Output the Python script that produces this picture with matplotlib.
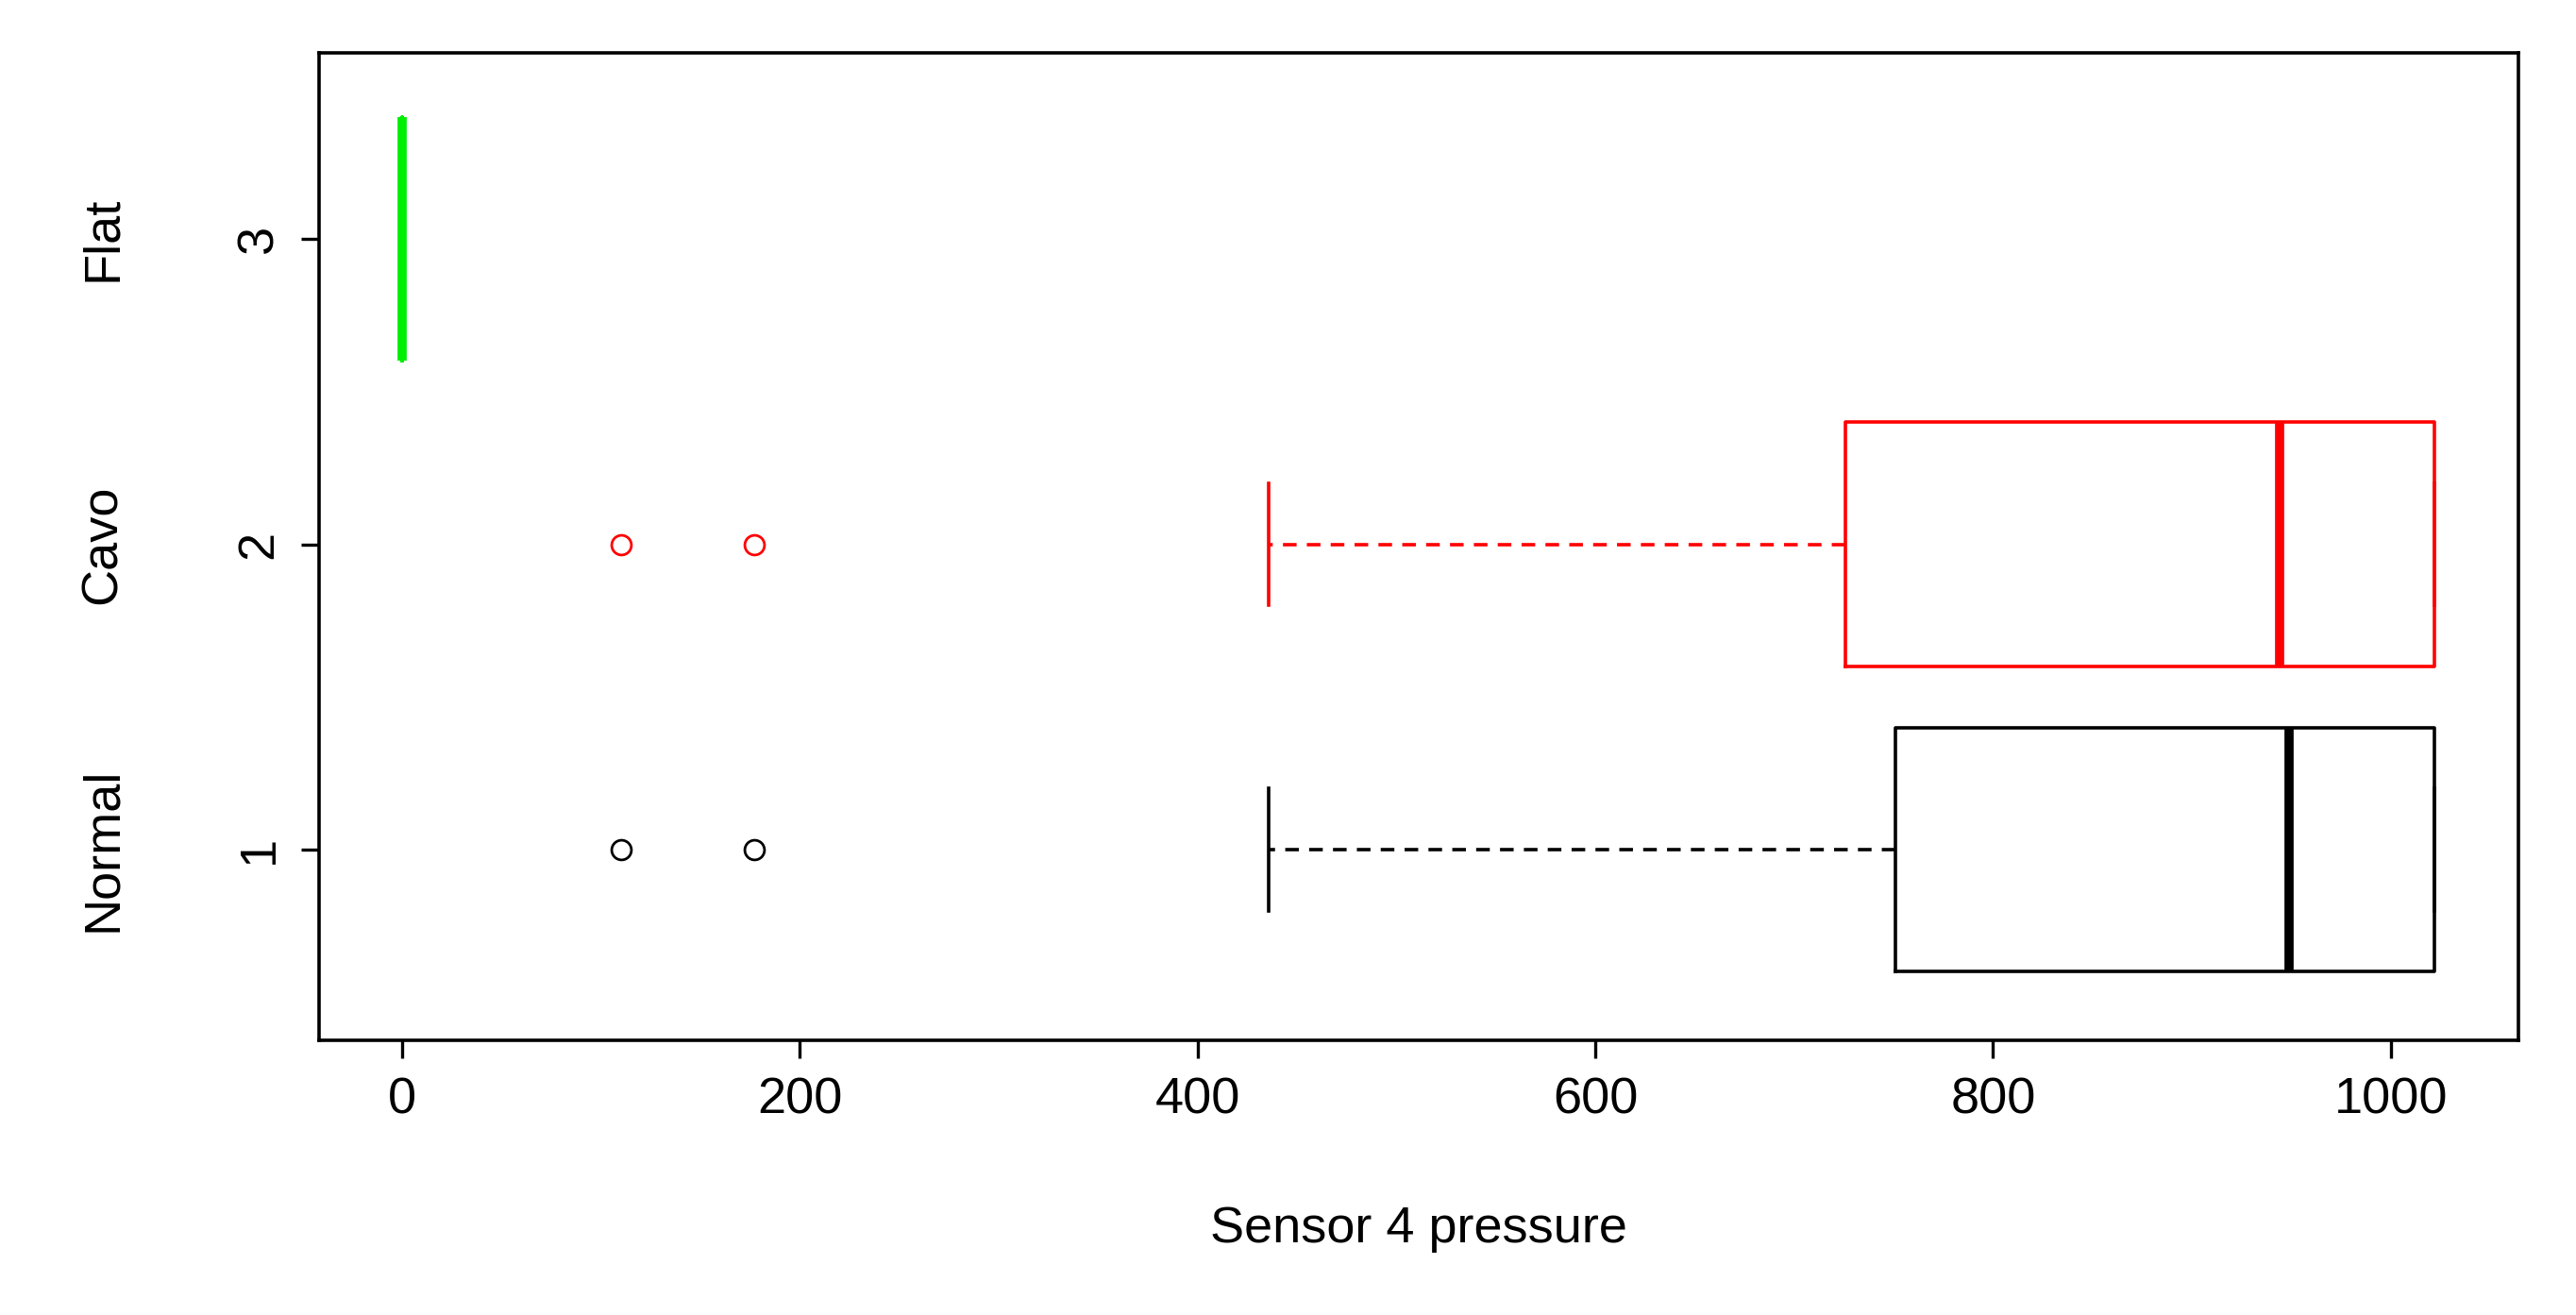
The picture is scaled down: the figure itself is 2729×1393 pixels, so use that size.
import matplotlib
matplotlib.use("Agg")
import matplotlib.pyplot as plt
import matplotlib.transforms as mtrans

groups = ["Normal", "Cavo", "Flat"]
positions = [1, 2, 3]
colors = ["black", "red", "#00ee00"]
q1 = [751, 726, 0]
med = [949, 944, 0]
q3 = [1022, 1022, 0]
wlo = [436, 436, 0]
whi = [1022, 1022, 0]
fliers = [[110, 177], [110, 177], []]

plt.rcParams['font.family'] = ['Liberation Sans', 'DejaVu Sans']
fig = plt.figure(figsize=(27.29, 13.93), dpi=100)
ax = fig.add_axes([0.124, 0.209, 0.8535, 0.751])

for i in range(3):
    st = [dict(med=med[i], q1=q1[i], q3=q3[i], whislo=wlo[i], whishi=whi[i], fliers=fliers[i])]
    c = colors[i]
    ax.bxp(st, positions=[positions[i]], widths=0.8, capwidths=0.4, orientation='horizontal',
           boxprops=dict(color=c, linewidth=2.6),
           medianprops=dict(color=c, linewidth=7, solid_capstyle='butt'),
           whiskerprops=dict(color=c, linewidth=2.6, linestyle=(0, (4, 3))),
           capprops=dict(color=c, linewidth=2.6),
           flierprops=dict(marker='o', markerfacecolor='none', markeredgecolor=c,
                           markersize=15, markeredgewidth=2))

ax.set_xlim(-41.5, 1064)
ax.set_ylim(0.376, 3.61)
ax.set_xticks([0, 200, 400, 600, 800, 1000])
ax.set_yticks(positions)
ax.set_yticklabels([str(p) for p in positions], rotation=90, va='center')
ax.tick_params(labelsize=39, length=14, width=2.4, pad=14)
for s in ax.spines.values():
    s.set_linewidth(2.6)
ax.set_xlabel("Sensor 4 pressure", fontsize=39, labelpad=62)
tr = mtrans.blended_transform_factory(fig.transFigure, ax.transData)
for g, p in zip(groups, positions):
    ax.text(0.04, p, g, transform=tr, rotation=90, ha='center', va='center', fontsize=39)
fig.savefig("out.png", dpi=100)
